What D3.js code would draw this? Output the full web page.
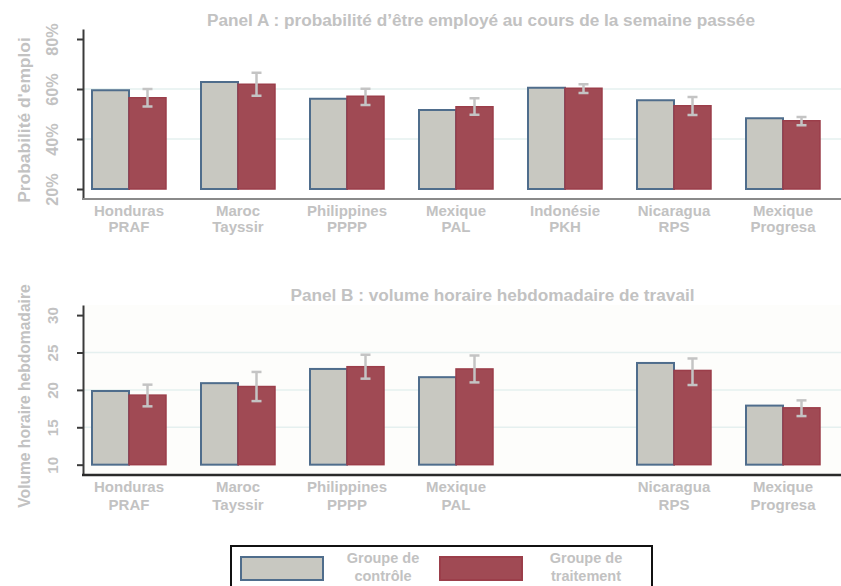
<!DOCTYPE html>
<html><head><meta charset="utf-8">
<script src="https://cdn.jsdelivr.net/npm/d3@7"></script>
<style>body{margin:0;background:#fff}svg{display:block}text{font-family:"Liberation Sans",Arial,sans-serif;font-weight:bold;fill:#c2c2c2}</style>
</head><body>
<script>
const categories = ["Honduras|PRAF","Maroc|Tayssir","Philippines|PPPP","Mexique|PAL","Indonésie|PKH","Nicaragua|RPS","Mexique|Progresa"];
const groups = ["Groupe de contrôle","Groupe de traitement"];
// Panel A : probabilité d'emploi (%)
const empControl   = [59.5, 62.8, 56.1, 51.6, 60.5, 55.5, 48.3];
const empTreatment = [56.5, 61.9, 57.1, 52.9, 60.3, 53.3, 47.3];
const empLow       = [53.0, 57.3, 53.6, 49.7, 58.4, 49.6, 45.5];
const empHigh      = [60.0, 66.5, 60.1, 56.3, 61.9, 56.8, 48.8];
const empTicks     = [20, 40, 60, 80];
const empGrid      = [40, 60];
// Panel B : volume horaire hebdomadaire (null = pas de données)
const hrsControl   = [19.85, 20.9, 22.8, 21.7, null, 23.6, 17.9];
const hrsTreatment = [19.3, 20.45, 23.1, 22.8, null, 22.6, 17.6];
const hrsLow       = [17.8, 18.5, 21.5, 21.0, null, 20.65, 16.5];
const hrsHigh      = [20.7, 22.4, 24.7, 24.6, null, 24.2, 18.6];
const hrsTicks     = [10, 15, 20, 25, 30];
const hrsGrid      = [15, 20, 25];

const W = 841, H = 586;
const svg = d3.select("body").append("svg").attr("width", W).attr("height", H);

const ctrlFill = "#c8c8c1", ctrlStroke = "#4f6d8c";
const trtFill = "#a04a54", trtStroke = "#9b3e4a";
const errColor = "#c4c4c4";

const x = d3.scaleBand().domain(categories).range([74.5, 74.5 + 7 * 109]).padding(0);
const xs = d3.scaleBand().domain(["c", "t"]).range([0, x.bandwidth()]).paddingInner(0).paddingOuter(0.473);

function panel(opts) {
  const {y, title, titleY, ctrl, trt, lo, hi, ticks, grid, fmt, ylabel, ylabelY, ylabelSize, tickSize, base, bg, xLabY, xLabGap, axisColor, axisW} = opts;
  const g = svg.append("g");
  const [y0, y1] = y.range();
  if (bg) g.append("rect").attr("x", 83).attr("y", y1).attr("width", W - 83).attr("height", y0 - y1).attr("fill", bg);
  // grid
  g.selectAll(".grid").data(grid).join("line")
    .attr("x1", 84).attr("x2", W).attr("y1", d => y(d)).attr("y2", d => y(d))
    .attr("stroke", "#e5f0ef").attr("stroke-width", 1.5);
  // bars
  categories.forEach((c, i) => {
    if (ctrl[i] == null) return;
    const gx = x(c);
    g.append("rect").attr("x", gx + xs("c")).attr("width", xs.bandwidth())
      .attr("y", y(ctrl[i])).attr("height", y(base) - y(ctrl[i]))
      .attr("fill", ctrlFill).attr("stroke", ctrlStroke).attr("stroke-width", 2);
    g.append("rect").attr("x", gx + xs("t")).attr("width", xs.bandwidth())
      .attr("y", y(trt[i])).attr("height", y(base) - y(trt[i]))
      .attr("fill", trtFill).attr("stroke", trtStroke).attr("stroke-width", 1.5);
    const ex = gx + xs("t") + xs.bandwidth() / 2;
    g.append("line").attr("x1", ex).attr("x2", ex).attr("y1", y(lo[i])).attr("y2", y(hi[i]))
      .attr("stroke", errColor).attr("stroke-width", 2.5);
    [lo[i], hi[i]].forEach(v => g.append("line").attr("x1", ex - 5).attr("x2", ex + 5)
      .attr("y1", y(v)).attr("y2", y(v)).attr("stroke", errColor).attr("stroke-width", 2.5));
  });
  // y axis
  const ya = g.append("g").attr("transform", "translate(83,0)")
    .call(d3.axisLeft(y).tickValues(ticks).tickSize(6).tickSizeOuter(0).tickFormat(fmt));
  ya.select(".domain").attr("stroke", "#3a3a3a").attr("stroke-width", 2);
  ya.selectAll(".tick line").attr("stroke", "#3a3a3a").attr("stroke-width", 2);
  ya.selectAll(".tick text").attr("transform", "rotate(-90)").attr("x", 0).attr("y", -25)
    .attr("dy", 0).attr("text-anchor", "middle").style("font-size", tickSize + "px")
    .style("fill", "#c2c2c2").style("font-family", "'Liberation Sans',Arial,sans-serif").style("font-weight", "bold");
  // x axis line
  g.append("line").attr("x1", 82).attr("x2", W).attr("y1", y0).attr("y2", y0)
    .attr("stroke", axisColor).attr("stroke-width", axisW);
  // x labels (only categories with data)
  categories.forEach((c, i) => {
    if (ctrl[i] == null) return;
    const parts = c.split("|");
    const cx = x(c) + x.bandwidth() / 2;
    parts.forEach((p, k) => g.append("text").attr("x", cx).attr("y", xLabY + k * xLabGap)
      .attr("text-anchor", "middle").style("font-size", "15px").text(p));
  });
  // title
  g.append("text").attr("x", opts.titleX).attr("y", titleY).attr("text-anchor", "middle")
    .style("font-size", "17.2px").text(title);
  // y label
  g.append("text").attr("transform", `translate(29.5,${ylabelY}) rotate(-90)`).attr("text-anchor", "middle")
    .style("font-size", ylabelSize + "px").text(ylabel);
}

const yA = d3.scaleLinear().domain([16, 84]).range([199, 29]);
panel({y: yA, title: "Panel A : probabilité d’être employé au cours de la semaine passée", titleX: 481, titleY: 26,
  ctrl: empControl, trt: empTreatment, lo: empLow, hi: empHigh, ticks: empTicks, grid: empGrid,
  fmt: d => d + "%", ylabel: "Probabilité d'emploi", ylabelY: 120, ylabelSize: 17.4, tickSize: 16.2, base: 20, bg: null,
  xLabY: 215.5, xLabGap: 16.5, axisColor: "#8a8a8a", axisW: 2});

const yB = d3.scaleLinear().domain([8.62, 31.35]).range([475, 305]);
panel({y: yB, title: "Panel B : volume horaire hebdomadaire de travail", titleX: 492.5, titleY: 301,
  ctrl: hrsControl, trt: hrsTreatment, lo: hrsLow, hi: hrsHigh, ticks: hrsTicks, grid: hrsGrid,
  fmt: d => d, ylabel: "Volume horaire hebdomadaire", ylabelY: 396, ylabelSize: 15.6, tickSize: 15.2, base: 10, bg: "#fdfdfb",
  xLabY: 492, xLabGap: 17.5, axisColor: "#2a2a2a", axisW: 2.5});

// legend
const lg = svg.append("g");
lg.append("rect").attr("x", 231).attr("y", 546).attr("width", 421).attr("height", 50)
  .attr("fill", "#fff").attr("stroke", "#111").attr("stroke-width", 2);
const legendItems = [
  {label: ["Groupe de", "contrôle"], fill: ctrlFill, stroke: ctrlStroke, sx: 241, tx: 383},
  {label: ["Groupe de", "traitement"], fill: trtFill, stroke: trtStroke, sx: 440, tx: 586}
];
legendItems.forEach((it, i) => {
  lg.append("rect").attr("x", it.sx).attr("y", 557).attr("width", 82).attr("height", 23)
    .attr("fill", it.fill).attr("stroke", it.stroke).attr("stroke-width", 2);
  it.label.forEach((t, k) => lg.append("text").attr("x", it.tx).attr("y", 563 + k * 18)
    .attr("text-anchor", "middle").style("font-size", "14.5px").text(t));
});
</script>
</body></html>
